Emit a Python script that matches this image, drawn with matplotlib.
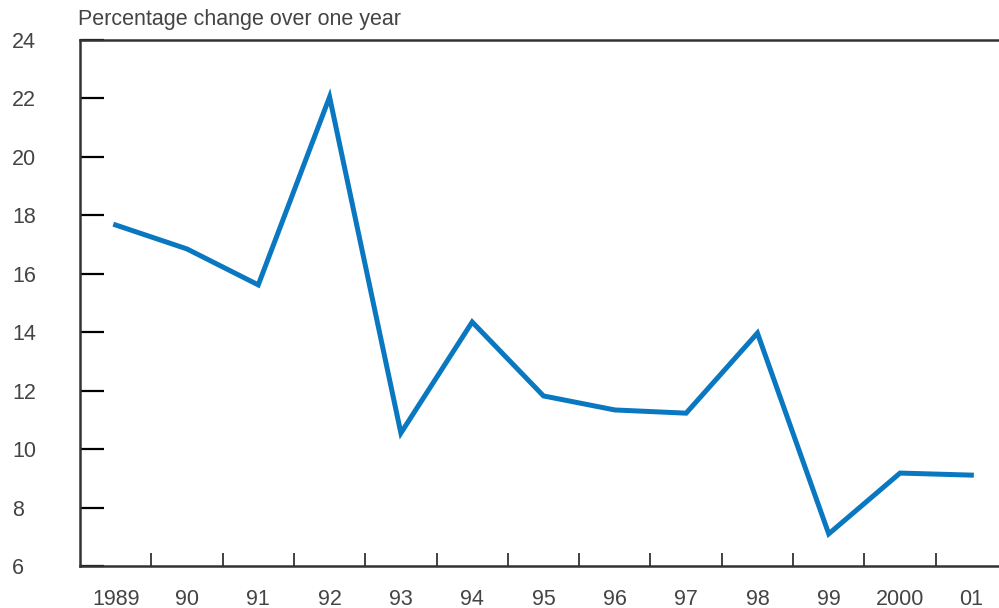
import matplotlib.pyplot as plt
import numpy as np

years = ['1989', '90', '91', '92', '93', '94', '95', '96', '97', '98', '99', '2000', '01']
pct_change = [17.67, 16.85, 15.62, 22.05, 10.55, 14.35, 11.82, 11.34, 11.23, 13.97, 7.1, 9.18, 9.11]
y_ticks = [6, 8, 10, 12, 14, 16, 18, 20, 22, 24]

plt.rcParams['font.family'] = ['Liberation Sans', 'DejaVu Sans']
txt = '#444444'
spine = '#333333'

fig = plt.figure(figsize=(9.99, 6.08), dpi=100)
# axes run a little past the right edge, so the right spine is cut off
ax = fig.add_axes([80/999, 1-566/608, 927/999, 526/608])

x = np.arange(len(years))
ax.plot(x, pct_change, color='#0a78c0', lw=3.6, solid_joinstyle='miter')

ax.set_xlim(-0.5, len(years) - 0.5)
ax.set_ylim(6, 24)

ax.set_xticks(x)
ax.set_xticklabels(years)
ax.set_xticks(x[:-1] + 0.5, minor=True)
ax.tick_params(axis='x', which='major', length=0, pad=16.5, labelsize=15.5, labelcolor=txt)
ax.tick_params(axis='x', which='minor', direction='in', length=9.5, width=1.3, color=spine)

ax.set_yticks(y_ticks)
ax.tick_params(axis='y', direction='in', length=17, width=1.6, color='black',
               pad=49, labelsize=15.5, labelcolor=txt)
for lab in ax.get_yticklabels():
    lab.set_horizontalalignment('left')

for s in ['left', 'top', 'bottom']:
    ax.spines[s].set_color(spine)
    ax.spines[s].set_linewidth(1.8)
ax.spines['right'].set_visible(False)

fig.text(78/999, 1-19/608, 'Percentage change over one year', fontsize=15.5,
         color=txt, ha='left', va='center')

fig.savefig('out.png', dpi=100)
